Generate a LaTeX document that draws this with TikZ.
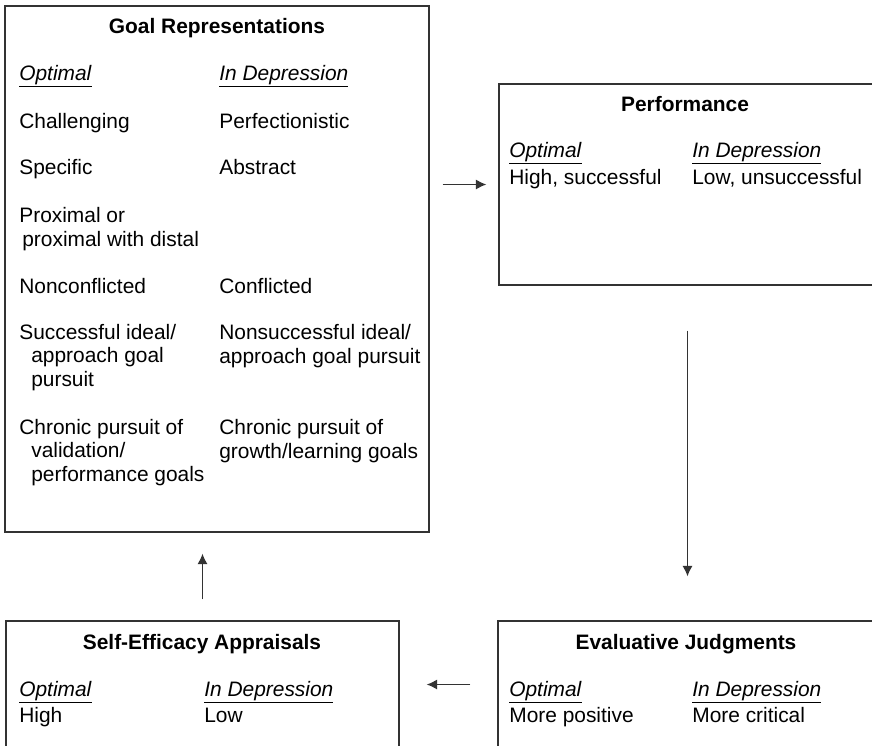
\documentclass[tikz,border=0pt]{standalone}
\usepackage{fontspec}
\setmainfont{Liberation Sans}
\usetikzlibrary{arrows.meta,fit}

\begin{document}
\begin{tikzpicture}[x=0.02cm,y=-0.02cm]
	\tikzstyle{panel}=[rectangle, draw=black!80, line width=0.75pt, inner sep=0pt]
	\tikzstyle{head}=[anchor=base, inner sep=0pt, font=\fontsize{11.9}{13.1}\selectfont\bfseries]
	\tikzstyle{item}=[anchor=base west, align=left, inner sep=0pt, font=\fontsize{11.9}{13.1}\selectfont]
	\tikzstyle{flow}=[-{Latex[length=6pt,width=5.8pt]}, line width=0.75pt, black!80]
	\useasboundingbox (0,0) rectangle (872,745);

	% boxes
	\node[panel, fit={(5,6) (429,532)}] (goal) {};
	\node[panel, fit={(499,84) (876,285)}] (perf) {};
	\node[panel, fit={(498,621) (876,748)}] (eval) {};
	\node[panel, fit={(6,621) (399,748)}] (self) {};

	% goal representations (multi-line items sit on their last line)
	\node[head] at (217, 33) (goalhead) {Goal Representations};
	\node[item] at (19, 80) (goalopt) {\underline{\textit{Optimal}}};
	\node[item] at (219, 80) (goaldep) {\underline{\textit{In Depression}}};
	\node[item] at (19, 128) (opt1) {Challenging};
	\node[item] at (219, 128) (dep1) {Perfectionistic};
	\node[item] at (19, 174) (opt2) {Specific};
	\node[item] at (219, 174) (dep2) {Abstract};
	\node[item] at (19, 246) (opt3) {Proximal or\\\hspace*{1.7pt}proximal with distal};
	\node[item] at (19, 293) (opt4) {Nonconflicted};
	\node[item] at (219, 293) (dep4) {Conflicted};
	\node[item] at (19, 386) (opt5) {Successful ideal/\\\hspace*{6.8pt}approach goal\\\hspace*{6.8pt}pursuit};
	\node[item] at (219, 363) (dep5) {Nonsuccessful ideal/\\approach goal pursuit};
	\node[item] at (19, 481) (opt6) {Chronic pursuit of\\\hspace*{6.8pt}validation/\\\hspace*{6.8pt}performance goals};
	\node[item] at (219, 458) (dep6) {Chronic pursuit of\\growth/learning goals};

	% performance
	\node[head] at (685, 111) (perfhead) {Performance};
	\node[item] at (509, 157) (perfopt) {\underline{\textit{Optimal}}};
	\node[item] at (692, 157) (perfdep) {\underline{\textit{In Depression}}};
	\node[item] at (509, 184) (perfhigh) {High, successful};
	\node[item] at (692, 184) (perflow) {Low, unsuccessful};

	% evaluative judgments
	\node[head] at (686, 649) (evalhead) {Evaluative Judgments};
	\node[item] at (509, 696) (evalopt) {\underline{\textit{Optimal}}};
	\node[item] at (692, 696) (evaldep) {\underline{\textit{In Depression}}};
	\node[item] at (509, 722) (evalpos) {More positive};
	\node[item] at (692, 722) (evalcrit) {More critical};

	% self-efficacy appraisals
	\node[head] at (202, 649) (selfhead) {Self-Efficacy Appraisals};
	\node[item] at (19, 696) (selfopt) {\underline{\textit{Optimal}}};
	\node[item] at (204, 696) (selfdep) {\underline{\textit{In Depression}}};
	\node[item] at (19, 722) (selfhigh) {High};
	\node[item] at (204, 722) (selflow) {Low};

	\draw [flow, shorten <=0.26cm, shorten >=0.24cm] (goal.east |- perf.west) -- (perf.west);
	\draw [flow, shorten <=0.9cm, shorten >=0.88cm] (perf.south) -- (perf.south |- eval.north);
	\draw [flow, shorten <=0.54cm, shorten >=0.54cm] (eval.west) -- (self.east);
	\draw [flow, shorten <=0.42cm, shorten >=0.42cm] (self.north) -- (self.north |- goal.south);
\end{tikzpicture}
\end{document}
